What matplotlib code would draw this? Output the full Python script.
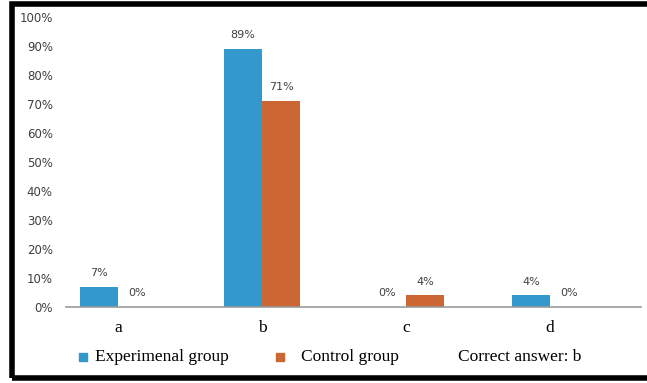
import matplotlib.pyplot as plt
from matplotlib.patches import Rectangle
import numpy as np

categories = ["a", "b", "c", "d"]
experimental = [7, 89, 0, 4]
control = [0, 71, 4, 0]
exp_labels = ["7%", "89%", "0%", "4%"]
ctrl_labels = ["0%", "71%", "4%", "0%"]

blue = "#3399CC"
orange = "#CC6633"

W, H = 647, 383
fig = plt.figure(figsize=(W / 100, H / 100), dpi=100)

# axes placed in pixel terms
ax = fig.add_axes([66 / W, (H - 307) / H, (641 - 66) / W, (307 - 17) / H])

x = np.arange(len(categories))
bw = 0.264
ax.bar(x - bw / 2, experimental, width=bw, color=blue)
ax.bar(x + bw / 2, control, width=bw, color=orange)

for xi, v, t in zip(x, experimental, exp_labels):
    ax.text(xi - bw / 2, v + 3, t, ha="center", va="bottom", fontsize=8,
            color="#404040", family="DejaVu Sans")
for xi, v, t in zip(x, control, ctrl_labels):
    ax.text(xi + bw / 2, v + 3, t, ha="center", va="bottom", fontsize=8,
            color="#404040", family="DejaVu Sans")

ax.set_xlim(-0.36, 3.63)
ax.set_ylim(0, 100)
ax.set_yticks(range(0, 101, 10))
ax.set_yticklabels([f"{v}%" for v in range(0, 101, 10)], fontsize=8.5,
                   color="#404040", family="DejaVu Sans")
ax.set_xticks(x)
ax.set_xticklabels(categories, fontsize=12.5, family="Liberation Serif")
ax.tick_params(axis="x", length=0, pad=9)
ax.tick_params(axis="y", length=0, pad=9.5)
for s in ["top", "right", "left"]:
    ax.spines[s].set_visible(False)
ax.spines["bottom"].set_color("#999999")
ax.spines["bottom"].set_linewidth(1.2)

# legend drawn by hand along the bottom
ly = (H - 357) / H
sq = 8
fig.patches.append(Rectangle((79 / W, ly - sq / 2 / H), sq / W, sq / H,
                             transform=fig.transFigure, color=blue))
fig.text(95 / W, ly, "Experimenal group", fontsize=12.5, family="Liberation Serif", va="center")
fig.patches.append(Rectangle((276 / W, ly - sq / 2 / H), sq / W, sq / H,
                             transform=fig.transFigure, color=orange))
fig.text(301 / W, ly, "Control group", fontsize=12.5, family="Liberation Serif", va="center")
fig.text(458 / W, ly, "Correct answer: b", fontsize=12.5, family="Liberation Serif", va="center")

# thick black frame (right side runs off the picture)
fig.patches.append(Rectangle((11.5 / W, 5.5 / H), 700 / W, (379.5 - 5.5) / H,
                             transform=fig.transFigure, fill=False,
                             edgecolor="black", linewidth=4))

fig.savefig("out.png", dpi=100)
